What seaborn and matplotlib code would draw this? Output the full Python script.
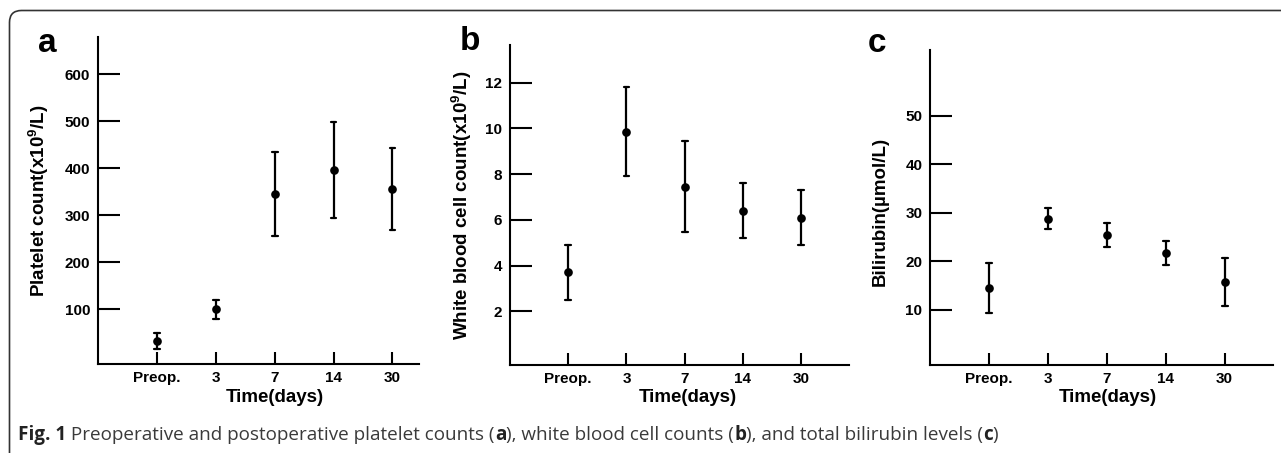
import pandas as pd
import matplotlib.pyplot as plt
import seaborn as sns
from matplotlib.patches import FancyBboxPatch
from matplotlib.transforms import IdentityTransform

# time points
times = ["Preop.", "3", "7", "14", "30"]

# platelet count (x10^9/L): mean and SD
plt_mean = [33, 100, 345, 397, 356]
plt_sd = [17, 21, 89, 102, 88]

# white blood cell count (x10^9/L)
wbc_mean = [3.7, 9.85, 7.45, 6.4, 6.1]
wbc_sd = [1.2, 1.95, 2.0, 1.2, 1.2]

# total bilirubin (umol/L)
bil_mean = [14.5, 28.8, 25.5, 21.8, 15.8]
bil_sd = [5.1, 2.2, 2.5, 2.5, 5.0]

sns.set_style("ticks")
plt.rcParams['font.family'] = ['Liberation Sans', 'DejaVu Sans']
plt.rcParams['text.color'] = 'black'
plt.rcParams['axes.labelcolor'] = 'black'
plt.rcParams['mathtext.fontset'] = 'custom'
plt.rcParams['mathtext.bf'] = 'Liberation Sans:bold'
plt.rcParams['mathtext.rm'] = 'Liberation Sans:bold'
plt.rcParams['mathtext.default'] = 'bf'

W, H = 1281, 453
fig = plt.figure(figsize=(W / 100, H / 100), dpi=100)


def px_rect(left, right, top, bottom):
    return [left / W, 1 - bottom / H, (right - left) / W, (bottom - top) / H]


def long_form(means, sds):
    # two rows per time point (mean - sd, mean + sd) -> mean with min/max interval
    rows = []
    for t, m, s in zip(times, means, sds):
        rows.append({"time": t, "value": m - s})
        rows.append({"time": t, "value": m + s})
    return pd.DataFrame(rows)


panels = [
    dict(rect=px_rect(97.7, 419, 37, 364), means=plt_mean, sds=plt_sd,
         ylim=(-16, 679), yticks=[100, 200, 300, 400, 500, 600],
         ylabel="Platelet count(x10$^{9}$/L)", ylab=(-0.145, 0.5), xlab=(0.552, -0.076),
         xlim=(-1, 4.45), letter="a", lpos=(38, 43)),
    dict(rect=px_rect(510, 849, 45, 365), means=wbc_mean, sds=wbc_sd,
         ylim=(-0.35, 13.65), yticks=[2, 4, 6, 8, 10, 12],
         ylabel="White blood cell count(x10$^{9}$/L)", ylab=(-0.106, 0.5), xlab=(0.524, -0.075),
         xlim=(-1, 4.82), letter="b", lpos=(460, 41)),
    dict(rect=px_rect(930, 1273, 50, 365), means=bil_mean, sds=bil_sd,
         ylim=(-1.34, 63.6), yticks=[10, 20, 30, 40, 50],
         ylabel="Bilirubin(µmol/L)", ylab=(-0.12, 0.486), xlab=(0.517, -0.076),
         xlim=(-1, 4.82), letter="c", lpos=(868, 43)),
]

for p in panels:
    ax = fig.add_axes(p["rect"])
    df = long_form(p["means"], p["sds"])
    sns.pointplot(data=df, x="time", y="value", order=times, estimator="mean",
                  errorbar=("pi", 100), linestyle="none", color="black",
                  markers="o", markersize=4.2, capsize=0.1,
                  err_kws={"linewidth": 1.6}, ax=ax)
    ax.set_xlim(*p["xlim"])
    ax.set_ylim(*p["ylim"])
    ax.set_yticks(p["yticks"])
    sns.despine(ax=ax)
    for side in ["left", "bottom"]:
        ax.spines[side].set_linewidth(1.5)
        ax.spines[side].set_color("black")
    ax.tick_params(axis="x", direction="in", length=8.6, width=1.5, pad=5,
                   labelsize=11, colors="black")
    ax.tick_params(axis="y", direction="in", length=15.8, width=1.5, pad=5.5,
                   labelsize=11, colors="black")
    for lab in ax.get_xticklabels() + ax.get_yticklabels():
        lab.set_fontweight("bold")
    ax.set_xlabel("Time(days)", fontsize=13.5, fontweight="bold", color="black")
    ax.set_ylabel(p["ylabel"], fontsize=13.5, fontweight="bold", color="black")
    ax.xaxis.set_label_coords(*p["xlab"])
    ax.yaxis.set_label_coords(*p["ylab"])
    ax.grid(False)
    fig.text(p["lpos"][0] / W, 1 - p["lpos"][1] / H, p["letter"], fontsize=24,
             fontweight="bold", ha="left", va="center", color="black")

# rounded frame (top and left edges only visible)
frame = FancyBboxPatch((9.5, -40), 1400, H - 10.5 + 40,
                       boxstyle="round,pad=0,rounding_size=12",
                       transform=IdentityTransform(), fill=False,
                       edgecolor="#333333", linewidth=1.2)
fig.add_artist(frame)

# caption with mixed weights
runs = [("Fig. 1", "bold"), (" Preoperative and postoperative platelet counts (", "normal"),
        ("a", "bold"), ("), white blood cell counts (", "normal"), ("b", "bold"),
        ("), and total bilirubin levels (", "normal"), ("c", "bold"), (")", "normal")]
renderer = fig.canvas.get_renderer()
x = 18
for s, w in runs:
    t = fig.text(x / W, 1 - 435 / H, s, fontsize=13.6, fontweight=w,
                 family=["Open Sans", "DejaVu Sans"],
                 color="#222222" if w == "bold" else "#3a3a3a", va="center", ha="left")
    x += t.get_window_extent(renderer).width

fig.savefig("out.png", dpi=100)
plt.close()
